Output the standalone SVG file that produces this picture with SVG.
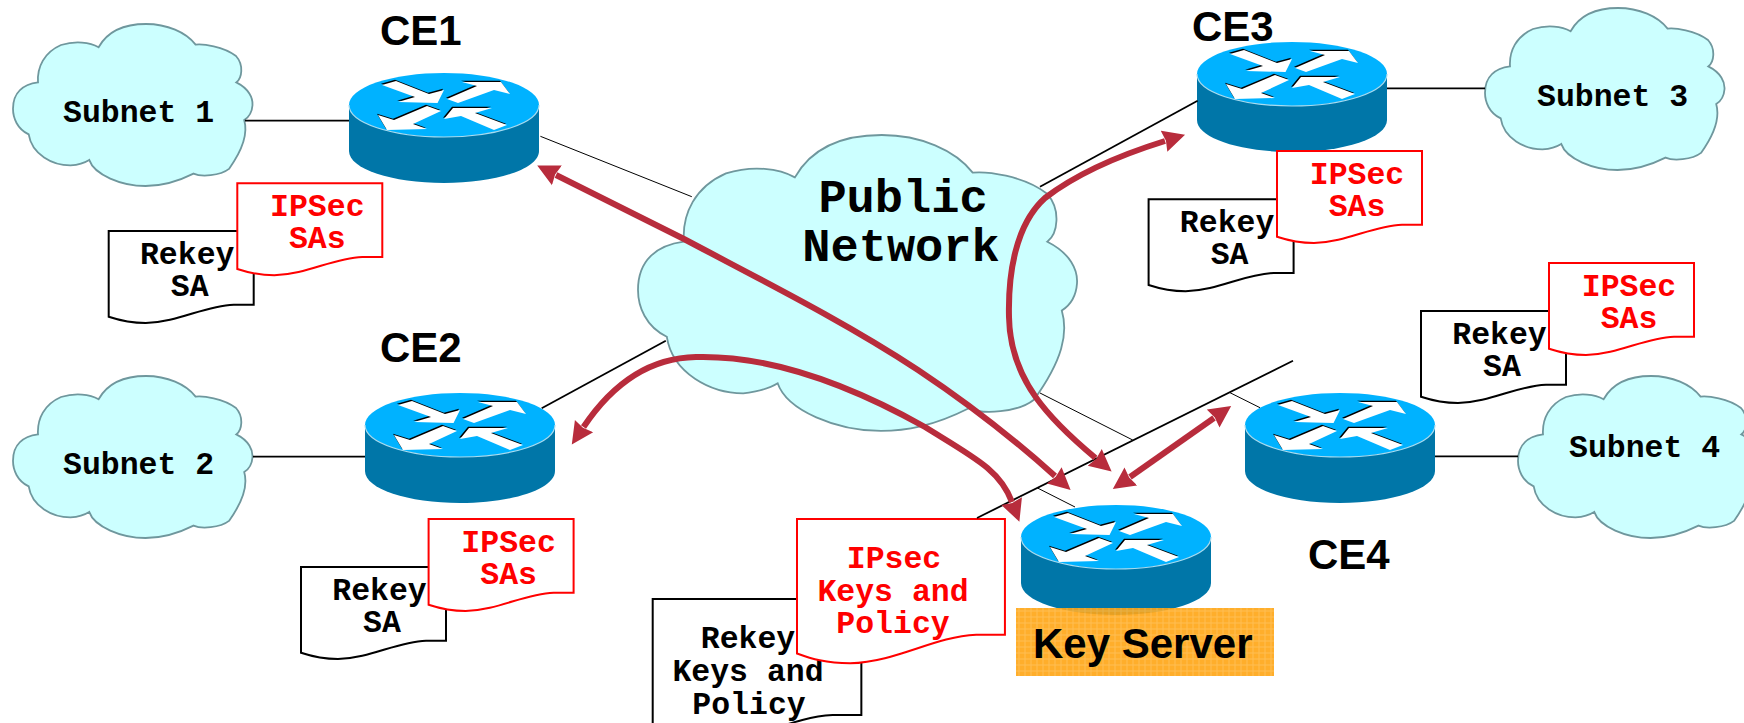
<svg xmlns="http://www.w3.org/2000/svg" xmlns:xlink="http://www.w3.org/1999/xlink" width="1744" height="723" viewBox="0 0 1744 723">
<style>
text{font-family:"Liberation Mono","Courier New",monospace;font-weight:bold;}
.lbl{font-family:"Liberation Sans",Arial,sans-serif;font-size:42px;fill:#000;}
.m{font-size:31.5px;fill:#000;text-anchor:middle;}
.r{font-size:31.5px;fill:#f00;text-anchor:middle;}
.sub{font-size:31.5px;fill:#000;}
.pub{font-size:47px;fill:#000;text-anchor:middle;}
.cl{fill:#ccffff;stroke:#6f979d;stroke-width:1.8;}
.dk{fill:#fff;stroke:#000;stroke-width:2;}
.dr{fill:#fff;stroke:#f00;stroke-width:2;}
.th{stroke:#000;stroke-width:1;fill:none;}
.md{stroke:#000;stroke-width:1.8;fill:none;}
.ar{stroke:#b82c3c;stroke-width:6;fill:none;marker-start:url(#ah);marker-end:url(#ah);}
</style>
<defs>
<marker id="ah" markerUnits="userSpaceOnUse" markerWidth="24" markerHeight="24" refX="1" refY="11" orient="auto-start-reverse" viewBox="0 0 24 22"><path d="M0,0 L22,11 L0,22 L2,11 Z" fill="#b82c3c"/></marker>
<path id="cloud" vector-effect="non-scaling-stroke" d="M85.6,23.2 C96,4.7 115,0 133,0 C154,0 173,8.2 182.6,20.6 C190,19.9 210,22 223,32 C231,41 229,54 223.3,58.4 C236,64.8 240,74 239.5,81.2 C239,88.5 236,93 231.2,96.1 C234.8,108.5 231.7,123 216,144.9 C207,152 188,153 180.5,149.6 C160.7,159.6 146,162 132.5,162 C108.5,162 81.3,150.9 76.2,135.9 C69,140.5 57.4,141.4 57.4,141.4 C39.7,141.4 18.8,130.5 15.7,110.4 C4.2,104.9 0,93.9 0,84.8 C0,68.4 10.4,60.3 25,58.4 C24,42.9 31.3,28.3 48,21 C62.6,16.4 77,18.3 85.6,23.2 Z"/>
<path id="doc" vector-effect="non-scaling-stroke" d="M0,0 H145 V73.7 H125 C95,75 70,91 37,92 C20,92 10,89 0,85.7 Z"/>
<g id="router">
<path d="M-95,0 V46 C-95,64 -52,78 0,78 C52,78 95,64 95,46 V0 Z" fill="#0076a8"/>
<ellipse cx="0" cy="0" rx="95" ry="32" fill="#00b2ff"/>
<path d="M-95,0 C-95,18 -52,32 0,32 C52,32 95,18 95,0" fill="none" stroke="#a8dcf0" stroke-width="1.2"/>
<g transform="translate(-1,-1.2)" fill="#000">
<path d="M-62,-20 L-48,-24 L-15,-11 L0,-15 L-6.5,-2 L-46,-3 L-29,-8 Z"/>
<path d="M3,-6 L33,-19 L18,-23 L57,-23 L66,-11 L50,-15 L14,-2 Z"/>
<path d="M-3,6 L-31,19 L-17,24 L-57,25 L-66,10 L-50,15 L-17,1 Z"/>
<path d="M0,14 L9,3 L48,3 L31,8 L63,20 L50,25 L17,11 Z"/>
</g>
<g fill="#fff">
<path d="M-62,-20 L-48,-24 L-15,-11 L0,-15 L-6.5,-2 L-46,-3 L-29,-8 Z"/>
<path d="M3,-6 L33,-19 L18,-23 L57,-23 L66,-11 L50,-15 L14,-2 Z"/>
<path d="M-3,6 L-31,19 L-17,24 L-57,25 L-66,10 L-50,15 L-17,1 Z"/>
<path d="M0,14 L9,3 L48,3 L31,8 L63,20 L50,25 L17,11 Z"/>
</g>
</g>
<pattern id="org" patternUnits="userSpaceOnUse" width="6" height="6" x="1016" y="608">
<rect width="6" height="6" fill="#ffa514"/>
<path d="M0,3 H6 M3,0 V6" stroke="#ffb83f" stroke-width="1"/>
</pattern>
</defs>
<rect width="1744" height="723" fill="#fff"/>

<g id="subnet1"><use href="#cloud" class="cl" transform="translate(13,24)"/><text class="sub" x="63" y="122">Subnet 1</text></g>
<g id="subnet2"><use href="#cloud" class="cl" transform="translate(13,376)"/><text class="sub" x="63" y="474">Subnet 2</text></g>
<g id="subnet3"><use href="#cloud" class="cl" transform="translate(1485,8)"/><text class="sub" x="1537" y="106">Subnet 3</text></g>
<g id="subnet4"><use href="#cloud" class="cl" transform="translate(1518,376)"/><text class="sub" x="1569" y="457">Subnet 4</text></g>
<g id="public-network"><use href="#cloud" class="cl" transform="translate(638,135) scale(1.833,1.827)"/>
<text class="pub" x="903" y="212">Public</text><text class="pub" x="901" y="261">Network</text></g>

<g id="ce1"><use href="#router" transform="translate(444,105)"/><text class="lbl" x="380" y="45">CE1</text></g>
<g id="ce2"><use href="#router" transform="translate(460,425)"/><text class="lbl" x="380" y="362">CE2</text></g>
<g id="ce3"><use href="#router" transform="translate(1292,74)"/><text class="lbl" x="1192" y="41">CE3</text></g>
<g id="ce4"><use href="#router" transform="translate(1340,425)"/><text class="lbl" x="1308" y="569">CE4</text></g>
<g id="key-server"><use href="#router" transform="translate(1116,537)"/>
<rect x="1016" y="608" width="258" height="68" fill="url(#org)" fill-opacity=".9"/>
<text class="lbl" x="1033" y="658">Key Server</text></g>

<g id="docs-ce1">
<g transform="translate(108.7,231)"><use href="#doc" class="dk"/><text class="m" x="78.5" y="33">Rekey</text><text class="m" x="81" y="65">SA</text></g>
<g transform="translate(237.3,183.3)"><use href="#doc" class="dr"/><text class="r" x="80" y="33">IPSec</text><text class="r" x="80" y="65">SAs</text></g>
</g>
<g id="docs-ce2">
<g transform="translate(301,567)"><use href="#doc" class="dk"/><text class="m" x="78.5" y="33">Rekey</text><text class="m" x="81" y="65">SA</text></g>
<g transform="translate(428.6,519)"><use href="#doc" class="dr"/><text class="r" x="80" y="33">IPSec</text><text class="r" x="80" y="65">SAs</text></g>
</g>
<g id="docs-ce3">
<g transform="translate(1148.6,199.3)"><use href="#doc" class="dk"/><text class="m" x="78.5" y="33">Rekey</text><text class="m" x="81" y="65">SA</text></g>
<g transform="translate(1277,151)"><use href="#doc" class="dr"/><text class="r" x="80" y="33">IPSec</text><text class="r" x="80" y="65">SAs</text></g>
</g>
<g id="docs-ce4">
<g transform="translate(1421,311)"><use href="#doc" class="dk"/><text class="m" x="78.5" y="33">Rekey</text><text class="m" x="81" y="65">SA</text></g>
<g transform="translate(1549,263)"><use href="#doc" class="dr"/><text class="r" x="80" y="33">IPSec</text><text class="r" x="80" y="65">SAs</text></g>
</g>
<g id="docs-key-server">
<use href="#doc" class="dk" transform="translate(652.7,599) scale(1.439,1.575)"/>
<text class="m" x="748" y="648">Rekey</text><text class="m" x="748" y="681">Keys and</text><text class="m" x="749" y="714">Policy</text>
<use href="#doc" class="dr" transform="translate(797,519) scale(1.434,1.569)"/>
<text class="r" x="894" y="568">IPsec</text><text class="r" x="893" y="601">Keys and</text><text class="r" x="893" y="633">Policy</text>
</g>

<g id="connectors">
<path class="md" d="M245,120.7 H349"/>
<path class="md" d="M253,456.7 H365"/>
<path class="md" d="M1387,88.3 H1485"/>
<path class="md" d="M1435,456.3 H1518"/>
<path class="th" d="M540.4,136.3 L691.8,196.7"/>
<path class="md" d="M541.7,408.3 L665.8,340.7"/>
<path class="md" d="M1197.6,100.7 L1040,186.7"/>
<path class="md" d="M977,518 L1293,360.7"/>
<path class="th" d="M1040,393 L1132.7,440"/>
<path class="th" d="M1230,392.7 L1260,407.7"/>
<path class="th" d="M1037.5,488 L1075,507"/>
<path class="ar" d="M556,175 L684,239 C765,282 845,322 918,370 C975,408 1015,440 1055,476"/>
<path class="ar" d="M583.5,427 C605,395 640,358 696,357 C770,355 850,385 925,427 C975,458 1000,470 1012,502"/>
<path class="ar" d="M1165,141 C1120,155 1075,175 1045,198 C1015,225 1008,275 1009,317 C1010,380 1050,420 1095.5,458"/>
<path class="ar" d="M1130,477 L1214,418"/>
</g>
</svg>
